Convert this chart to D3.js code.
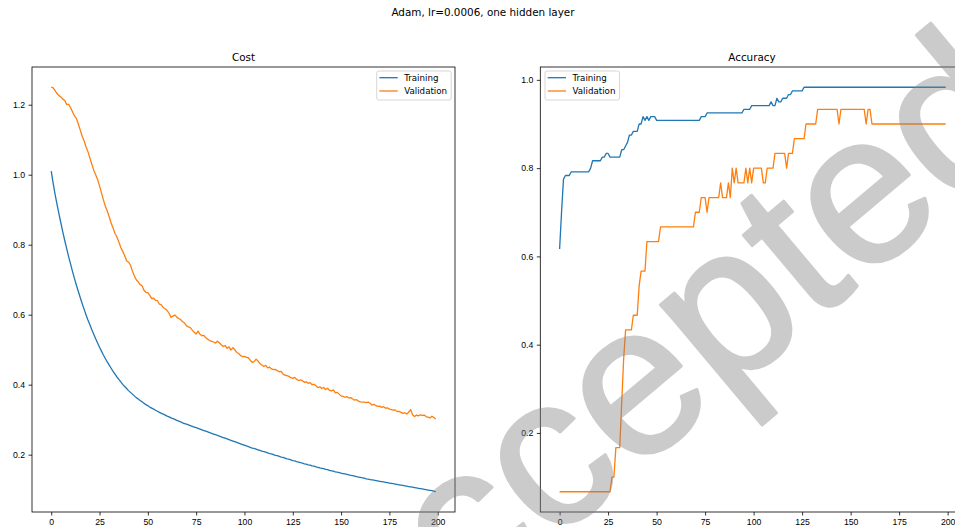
<!DOCTYPE html>
<html>
<head>
<meta charset="utf-8">
<script src="https://cdn.jsdelivr.net/npm/d3@7"></script>
<style>
body { margin: 0; background: #fff; }
svg { font-family: "DejaVu Sans", sans-serif; }
.tick text { font-size: 8.7px; fill: #000; }
.tick line { stroke: #000; stroke-width: 0.8; }
.title { font-size: 10.4px; fill: #000; }
.legend text { font-size: 8.7px; fill: #000; }
</style>
</head>
<body>
<svg width="955" height="527"></svg>
<script>
// **** Data ****

var epochs = d3.range(0, 200);

var trainCost = [
 1.010,0.975,0.944,0.915,0.888,0.862,0.836,0.812,0.789,0.766,
 0.745,0.724,0.704,0.685,0.667,0.649,0.632,0.616,0.600,0.585,
 0.571,0.557,0.544,0.531,0.519,0.507,0.496,0.485,0.475,0.465,
 0.456,0.447,0.438,0.430,0.422,0.415,0.408,0.401,0.395,0.389,
 0.383,0.378,0.373,0.368,0.363,0.359,0.355,0.351,0.347,0.343,
 0.340,0.336,0.333,0.330,0.327,0.324,0.321,0.318,0.316,0.313,
 0.310,0.308,0.305,0.303,0.301,0.298,0.296,0.294,0.291,0.289,
 0.287,0.285,0.283,0.281,0.279,0.277,0.275,0.273,0.271,0.269,
 0.267,0.265,0.263,0.261,0.259,0.257,0.255,0.253,0.251,0.249,
 0.247,0.245,0.243,0.241,0.239,0.237,0.235,0.233,0.231,0.229,
 0.227,0.225,0.223,0.221,0.219,0.218,0.216,0.214,0.212,0.210,
 0.209,0.207,0.205,0.203,0.202,0.200,0.198,0.197,0.195,0.193,
 0.192,0.190,0.188,0.187,0.185,0.183,0.182,0.180,0.179,0.177,
 0.176,0.174,0.173,0.171,0.170,0.168,0.167,0.165,0.164,0.162,
 0.161,0.160,0.158,0.157,0.155,0.154,0.153,0.151,0.150,0.149,
 0.147,0.146,0.145,0.144,0.142,0.141,0.140,0.139,0.137,0.136,
 0.135,0.134,0.133,0.131,0.130,0.129,0.128,0.127,0.126,0.125,
 0.124,0.123,0.122,0.121,0.120,0.119,0.118,0.117,0.116,0.115,
 0.114,0.113,0.112,0.111,0.110,0.109,0.108,0.107,0.106,0.105,
 0.104,0.103,0.102,0.101,0.100,0.099,0.098,0.097,0.096,0.094
];

var valCost = [
 1.250,1.248,1.240,1.232,1.226,1.222,1.216,1.212,1.201,1.201,
 1.192,1.180,1.168,1.161,1.145,1.128,1.110,1.097,1.080,1.066,
 1.048,1.030,1.013,1.000,0.986,0.968,0.948,0.928,0.910,0.896,
 0.880,0.862,0.848,0.832,0.822,0.808,0.792,0.781,0.769,0.754,
 0.750,0.742,0.725,0.711,0.700,0.694,0.686,0.683,0.670,0.664,
 0.663,0.655,0.646,0.647,0.641,0.640,0.630,0.628,0.620,0.617,
 0.612,0.604,0.592,0.596,0.599,0.593,0.589,0.586,0.580,0.576,
 0.568,0.565,0.563,0.556,0.550,0.545,0.553,0.544,0.540,0.541,
 0.534,0.530,0.526,0.524,0.522,0.519,0.524,0.520,0.514,0.509,
 0.512,0.504,0.508,0.499,0.506,0.500,0.492,0.489,0.483,0.480,
 0.481,0.478,0.477,0.470,0.464,0.466,0.473,0.468,0.460,0.456,
 0.452,0.455,0.448,0.450,0.445,0.443,0.444,0.440,0.437,0.438,
 0.430,0.427,0.426,0.424,0.420,0.418,0.421,0.415,0.412,0.414,
 0.411,0.407,0.408,0.404,0.406,0.400,0.401,0.397,0.392,0.394,
 0.389,0.392,0.386,0.390,0.384,0.382,0.385,0.377,0.378,0.373,
 0.368,0.367,0.364,0.366,0.362,0.363,0.359,0.356,0.357,0.353,
 0.351,0.350,0.350,0.349,0.350,0.347,0.342,0.344,0.340,0.338,
 0.339,0.335,0.337,0.333,0.334,0.330,0.329,0.327,0.328,0.323,
 0.324,0.321,0.318,0.320,0.316,0.322,0.329,0.314,0.309,0.313,
 0.311,0.314,0.312,0.313,0.309,0.307,0.305,0.310,0.306,0.302
];

var trainAcc = [
 0.6167,0.7000,0.7750,0.7833,0.7833,0.7833,0.7917,0.7917,0.7917,0.7917,
 0.7917,0.7917,0.7917,0.7917,0.7917,0.7917,0.8000,0.8167,0.8167,0.8167,
 0.8167,0.8167,0.8250,0.8250,0.8333,0.8333,0.8250,0.8250,0.8250,0.8250,
 0.8250,0.8250,0.8417,0.8417,0.8500,0.8583,0.8750,0.8750,0.8833,0.8833,
 0.8833,0.9000,0.9000,0.9167,0.9083,0.9167,0.9083,0.9167,0.9167,0.9167,
 0.9083,0.9083,0.9083,0.9083,0.9083,0.9083,0.9083,0.9083,0.9083,0.9083,
 0.9083,0.9083,0.9083,0.9083,0.9083,0.9083,0.9083,0.9083,0.9083,0.9083,
 0.9083,0.9083,0.9083,0.9167,0.9167,0.9167,0.9250,0.9250,0.9250,0.9250,
 0.9250,0.9250,0.9250,0.9250,0.9250,0.9250,0.9250,0.9250,0.9250,0.9250,
 0.9250,0.9250,0.9250,0.9250,0.9250,0.9333,0.9333,0.9333,0.9333,0.9417,
 0.9417,0.9417,0.9417,0.9417,0.9417,0.9417,0.9417,0.9417,0.9417,0.9500,
 0.9417,0.9417,0.9583,0.9500,0.9500,0.9583,0.9583,0.9583,0.9667,0.9667,
 0.9750,0.9750,0.9750,0.9750,0.9750,0.9750,0.9833,0.9833,0.9833,0.9833,
 0.9833,0.9833,0.9833,0.9833,0.9833,0.9833,0.9833,0.9833,0.9833,0.9833,
 0.9833,0.9833,0.9833,0.9833,0.9833,0.9833,0.9833,0.9833,0.9833,0.9833,
 0.9833,0.9833,0.9833,0.9833,0.9833,0.9833,0.9833,0.9833,0.9833,0.9833,
 0.9833,0.9833,0.9833,0.9833,0.9833,0.9833,0.9833,0.9833,0.9833,0.9833,
 0.9833,0.9833,0.9833,0.9833,0.9833,0.9833,0.9833,0.9833,0.9833,0.9833,
 0.9833,0.9833,0.9833,0.9833,0.9833,0.9833,0.9833,0.9833,0.9833,0.9833,
 0.9833,0.9833,0.9833,0.9833,0.9833,0.9833,0.9833,0.9833,0.9833,0.9833
];

var valAcc = [
 0.0667,0.0667,0.0667,0.0667,0.0667,0.0667,0.0667,0.0667,0.0667,0.0667,
 0.0667,0.0667,0.0667,0.0667,0.0667,0.0667,0.0667,0.0667,0.0667,0.0667,
 0.0667,0.0667,0.0667,0.0667,0.0667,0.0667,0.0667,0.1000,0.1000,0.1667,
 0.1667,0.1667,0.2667,0.3667,0.4333,0.4333,0.4333,0.4333,0.4667,0.4667,
 0.4667,0.5333,0.5667,0.5667,0.5667,0.6333,0.6333,0.6333,0.6333,0.6333,
 0.6333,0.6333,0.6667,0.6667,0.6667,0.6667,0.6667,0.6667,0.6667,0.6667,
 0.6667,0.6667,0.6667,0.6667,0.6667,0.6667,0.6667,0.6667,0.6667,0.6667,
 0.7000,0.7000,0.7000,0.7333,0.7333,0.7333,0.7000,0.7333,0.7333,0.7333,
 0.7333,0.7333,0.7333,0.7667,0.7333,0.7333,0.7333,0.7667,0.7333,0.8000,
 0.7667,0.8000,0.7667,0.7667,0.7667,0.7667,0.8000,0.7667,0.8000,0.7667,
 0.8000,0.8000,0.8000,0.8000,0.8000,0.7667,0.7667,0.8000,0.8000,0.8000,
 0.8000,0.8333,0.8333,0.8333,0.8333,0.8333,0.8333,0.8000,0.8333,0.8333,
 0.8333,0.8667,0.8667,0.8667,0.8667,0.8667,0.8667,0.9000,0.9000,0.9000,
 0.9000,0.9000,0.9000,0.9333,0.9333,0.9333,0.9333,0.9333,0.9333,0.9333,
 0.9333,0.9333,0.9333,0.9333,0.9000,0.9333,0.9333,0.9333,0.9333,0.9333,
 0.9333,0.9333,0.9333,0.9333,0.9333,0.9333,0.9333,0.9333,0.9000,0.9333,
 0.9333,0.9000,0.9000,0.9000,0.9000,0.9000,0.9000,0.9000,0.9000,0.9000,
 0.9000,0.9000,0.9000,0.9000,0.9000,0.9000,0.9000,0.9000,0.9000,0.9000,
 0.9000,0.9000,0.9000,0.9000,0.9000,0.9000,0.9000,0.9000,0.9000,0.9000,
 0.9000,0.9000,0.9000,0.9000,0.9000,0.9000,0.9000,0.9000,0.9000,0.9000
];

var xTicks = [0, 25, 50, 75, 100, 125, 150, 175, 200];
var costTicks = [0.2, 0.4, 0.6, 0.8, 1.0, 1.2];
var accTicks = [0.2, 0.4, 0.6, 0.8, 1.0];
var seriesNames = ["Training", "Validation"];
var colors = ["#1f77b4", "#ff7f0e"];

var svg = d3.select("svg");

// **** Figure title ****

svg.append("text")
    .attr("class", "title")
    .attr("text-anchor", "middle")
    .attr("x", 483)
    .attr("y", 16)
    .text("Adam, lr=0.0006, one hidden layer");

// **** One panel: scales, axes, lines, legend ****

function padded(arrs) {
    var all = d3.merge(arrs);
    var ext = d3.extent(all);
    var m = (ext[1] - ext[0]) * 0.05;
    return [ext[0] - m, ext[1] + m];
}

function drawPanel(p) {
    var xScale = d3.scaleLinear()
        .domain(padded([epochs])).range([p.left, p.right]);
    var yScale = d3.scaleLinear()
        .domain(padded(p.series)).range([p.bottom, p.top]);

    var g = svg.append("g");

    g.append("g").attr("class", "x axis")
        .attr("transform", "translate(0," + p.bottom + ")")
        .call(d3.axisBottom(xScale).tickValues(xTicks).tickSize(3.5).tickPadding(3.5))
        .call(function(a) { a.select(".domain").remove(); });

    g.append("g").attr("class", "y axis")
        .attr("transform", "translate(" + p.left + ",0)")
        .call(d3.axisLeft(yScale).tickValues(p.yTicks).tickFormat(d3.format(".1f"))
            .tickSize(3.5).tickPadding(3.5))
        .call(function(a) { a.select(".domain").remove(); });

    var line = d3.line()
        .x(function(d, i) { return xScale(epochs[i]); })
        .y(function(d) { return yScale(d); });

    p.series.forEach(function(s, k) {
        g.append("path")
            .datum(s)
            .attr("fill", "none")
            .attr("stroke", colors[k])
            .attr("stroke-width", 1.3)
            .attr("stroke-linejoin", "round")
            .attr("d", line);
    });

    // spines
    g.append("rect")
        .attr("x", p.left).attr("y", p.top)
        .attr("width", p.right - p.left).attr("height", p.bottom - p.top)
        .attr("fill", "none").attr("stroke", "#000").attr("stroke-width", 0.8);

    g.append("text")
        .attr("class", "title")
        .attr("text-anchor", "middle")
        .attr("x", p.titleX || (p.left + p.right) / 2)
        .attr("y", p.top - 6)
        .text(p.title);

    var lg = g.append("g").attr("class", "legend")
        .attr("transform", "translate(" + p.legendX + "," + p.legendY + ")");
    lg.append("rect")
        .attr("width", 74.5).attr("height", 29).attr("rx", 2)
        .attr("fill", "#fff").attr("fill-opacity", 0.8)
        .attr("stroke", "#ccc").attr("stroke-width", 0.8);
    seriesNames.forEach(function(name, k) {
        var yy = 6.7 + k * 13.3;
        lg.append("line")
            .attr("x1", 2.7).attr("x2", 21)
            .attr("y1", yy).attr("y2", yy)
            .attr("stroke", colors[k]).attr("stroke-width", 1.3);
        lg.append("text")
            .attr("x", 27.5).attr("y", yy + 3.1)
            .text(name);
    });
}

drawPanel({
    title: "Cost",
    left: 32, right: 455, top: 67, bottom: 512,
    series: [trainCost, valCost], yTicks: costTicks,
    legendX: 376.7, legendY: 71
});

drawPanel({
    title: "Accuracy",
    titleX: 752,
    left: 540.3, right: 965, top: 67, bottom: 512,
    series: [trainAcc, valAcc], yTicks: accTicks,
    legendX: 545, legendY: 71
});

// **** Watermark ****

var wm = svg.append("g").attr("opacity", 0.4);
wm.append("text")
    .attr("x", 358)
    .attr("y", 706)
    .attr("transform", "rotate(-40,358,706)")
    .attr("font-family", "Liberation Sans, Arial, sans-serif")
    .attr("font-size", 214)
    .attr("fill", "#808080")
    .attr("stroke", "#808080")
    .attr("stroke-width", 3)
    .attr("stroke-linejoin", "round")
    .text("Accepted");
</script>
</body>
</html>
